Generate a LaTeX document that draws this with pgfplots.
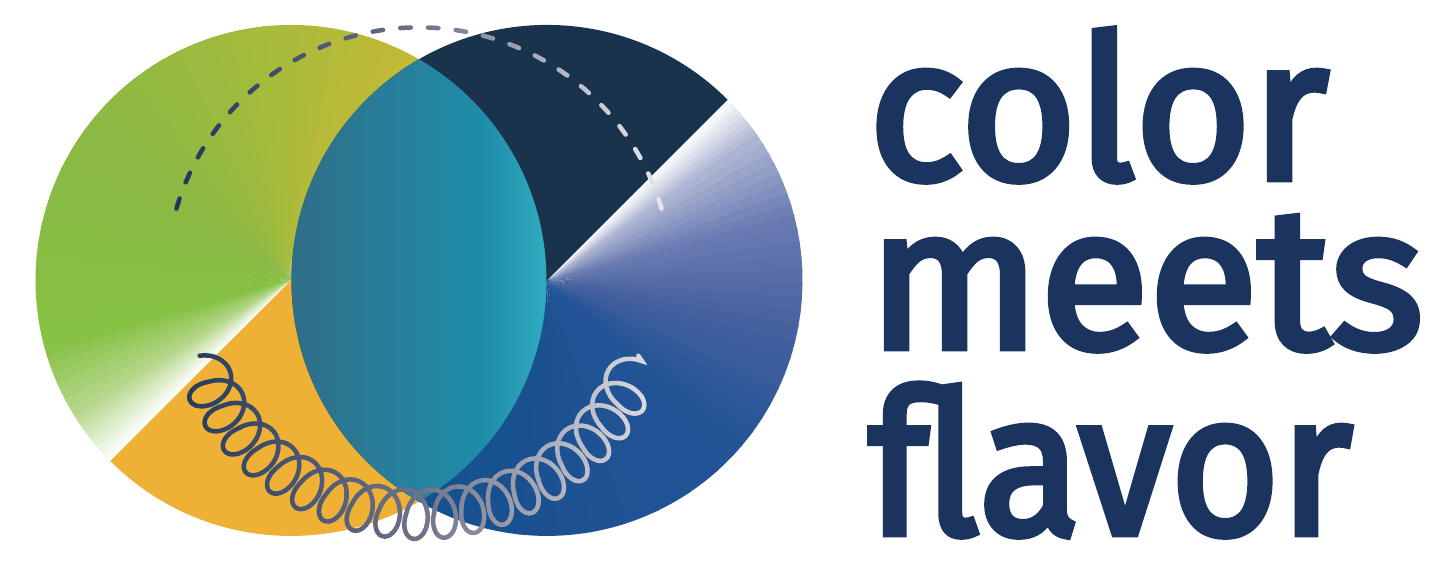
\documentclass[border=0pt]{standalone}
\usepackage{fontspec}
\usepackage{pgfplots}
\pgfplotsset{compat=1.18}
\usetikzlibrary{decorations.pathmorphing}
\newfontfamily\logofont{Fira Sans}[FakeBold=3.5]

\definecolor{logoblue}{HTML}{1B345F}
\definecolor{ga}{HTML}{C4B937}
\definecolor{gb}{HTML}{A3BB3C}
\definecolor{gc}{HTML}{8BB944}
\definecolor{gd}{HTML}{86C143}
\definecolor{ge}{HTML}{B8D88E}
\definecolor{orng}{HTML}{EFB135}
\definecolor{navy}{HTML}{1A334D}
\definecolor{bla}{HTML}{B0B8D4}
\definecolor{blb}{HTML}{6A7CB2}
\definecolor{blc}{HTML}{4862A0}
\definecolor{bld}{HTML}{245497}
\definecolor{ble}{HTML}{16508E}
\definecolor{lensA}{HTML}{2F6E88}
\definecolor{lensB}{HTML}{25839F}
\definecolor{lensC}{HTML}{1E8CA8}
\definecolor{lensD}{HTML}{2FABBF}
\definecolor{sA}{HTML}{22365A}
\definecolor{sB}{HTML}{6C7189}
\definecolor{sC}{HTML}{E8E8EC}

% 1 px of the reference = 0.4pt; y counted upwards from the bottom edge
\def\R{255.5}
% pie wedges with a colour blend, #1 centre, #2/#3 angles, #4 steps, #5 -> #6 colours
\newcommand\gwedge[6]{%
  \foreach \i in {1,...,#4}{%
    \pgfmathsetmacro\wa{#2+(\i-1)*(#3-#2)/#4}%
    \pgfmathsetmacro\wb{#2+\i*(#3-#2)/#4+0.5*sign(#3-#2)}%
    \pgfmathsetmacro\pp{100-100*(\i-0.5)/#4}%
    \fill[#5!\pp!#6] #1 -- ++(\wa:\R) arc[start angle=\wa, end angle=\wb, radius=\R] -- cycle;}}
% left-to-right colour blend sA -> sB -> sC by clipping vertical strips
\newcommand\stripdraw[2]{%
  \foreach \k in {0,...,44}{%
    \pgfmathsetmacro\xa{160+11.5*\k}%
    \pgfmathsetmacro\xb{\xa+12.5}%
    \pgfmathsetmacro\xc{\xa+5.75}%
    \ifdim\xc pt<419pt
      \pgfmathsetmacro\pp{max(0,min(100,100-(\xc-175)/2.44))}%
      \colorlet{sc}{sA!\pp!sB}%
    \else
      \pgfmathsetmacro\pp{max(0,min(100,100-(\xc-419)/2.44))}%
      \colorlet{sc}{sB!\pp!sC}%
    \fi
    \begin{scope}
      \clip (\xa,0) rectangle (\xb,540);
      \draw[#1, sc] #2;
    \end{scope}}}

\begin{document}
\begin{tikzpicture}
\begin{axis}[width=577.2pt, height=216pt, scale only axis,
  at={(0,0)}, anchor=south west,
  xmin=0, xmax=1443, ymin=0, ymax=540, hide axis]
\addplot[draw=none] coordinates {(0,0) (1443,540)};
\end{axis}
\begin{scope}[x=0.4pt, y=0.4pt]
  % left circle
  \gwedge{(291,265.5)}{60}{100}{10}{ga}{gb}
  \gwedge{(291,265.5)}{100}{140}{10}{gb}{gc}
  \gwedge{(291,265.5)}{140}{195}{8}{gc}{gd}
  \gwedge{(291,265.5)}{195}{212}{8}{gd}{ge}
  \gwedge{(291,265.5)}{212}{225}{12}{ge}{white}
  \fill[orng] (291,265.5) -- ++(225:\R) arc[start angle=225, end angle=420, radius=\R] -- cycle;
  % right circle
  \gwedge{(547,265.5)}{45}{35}{8}{white}{bla}
  \gwedge{(547,265.5)}{35}{15}{8}{bla}{blb}
  \gwedge{(547,265.5)}{15}{-10}{8}{blb}{blc}
  \gwedge{(547,265.5)}{-10}{-40}{8}{blc}{bld}
  \gwedge{(547,265.5)}{-40}{-120}{10}{bld}{ble}
  \fill[navy] (547,265.5) -- ++(45:\R) arc[start angle=45, end angle=240, radius=\R] -- cycle;
  % lens, blended left to right
  \begin{scope}
    \clip (291,265.5) circle[radius=\R];
    \clip (547,265.5) circle[radius=\R];
    \foreach \k in {0,...,64}{%
      \pgfmathsetmacro\xa{290+4*\k}%
      \pgfmathsetmacro\xb{\xa+4.6}%
      \pgfmathsetmacro\xc{\xa+2}%
      \ifdim\xc pt<419pt
        \pgfmathsetmacro\pp{max(0,min(100,100-(\xc-291)/1.28))}%
        \colorlet{sc}{lensA!\pp!lensB}%
      \else\ifdim\xc pt<483pt
        \pgfmathsetmacro\pp{max(0,min(100,100-(\xc-419)/0.64))}%
        \colorlet{sc}{lensB!\pp!lensC}%
      \else
        \pgfmathsetmacro\pp{max(0,min(100,100-(\xc-483)/0.64))}%
        \colorlet{sc}{lensC!\pp!lensD}%
      \fi\fi
      \fill[sc] (\xa,0) rectangle (\xb,540);}
  \end{scope}
  % dashed arc
  \stripdraw{line width=1.8pt, line cap=round, dash pattern=on 4.2pt off 6.92pt}
    {(176.42,337.36) arc[start angle=163.5, end angle=16.5, radius=253]}
  % spring
  \definecolor{sA}{HTML}{22385A}
  \definecolor{sB}{HTML}{6E7288}
  \definecolor{sC}{HTML}{E2E2E6}
  \stripdraw{line width=1.8pt, line cap=round, decorate,
    decoration={coil, amplitude=9.5pt, segment length=11pt, aspect=0.75}}
    {(199.63,190.20) arc[start angle=199, end angle=341, radius=232]}
  % words
  \node[anchor=base west, inner sep=0pt, text=logoblue,
    font=\logofont\fontsize{80}{80}\selectfont] at (868,367) {color};
  \node[anchor=base west, inner sep=0pt, text=logoblue,
    font=\logofont\fontsize{80}{80}\selectfont] at (868,198) {meets};
  \node[anchor=base west, inner sep=0pt, text=logoblue, xscale=0.94,
    font=\logofont\fontsize{80}{80}\selectfont] at (868,12) {flavor};
\end{scope}
\end{tikzpicture}
\end{document}
